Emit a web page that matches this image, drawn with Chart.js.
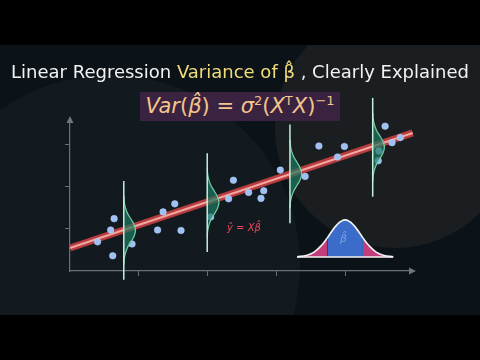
<!DOCTYPE html>
<html>
<head>
<meta charset="utf-8">
<script src="https://cdn.jsdelivr.net/npm/chart.js@4"></script>
<style>
  html, body { margin: 0; padding: 0; background: #000; }
  #wrap { position: relative; width: 480px; height: 360px; overflow: hidden; }
  #wrap canvas { position: absolute; left: 0; top: 0; }
  .title { position: absolute; left: 0; width: 480px; top: 61px; text-align: center;
    font: 18px "DejaVu Sans"; color: #f2f2f2; white-space: nowrap; }
  .title .hl { color: #f1dd78; }
  .formula { position: absolute; left: 140px; top: 92px; width: 200px; height: 29px;
    background: #3a2340; color: #f4c58c; font: 21px "DejaVu Sans"; text-align: center;
    line-height: 29px; white-space: nowrap; }
  .formula sup { font-size: 0.62em; vertical-align: 0; position: relative; top: -0.65em; }
  .yhat { position: absolute; left: 227px; top: 222px; font: italic 10px "DejaVu Sans"; color: #e8485a; white-space: nowrap; }
  .bhat { position: absolute; left: 340px; top: 232px; font: italic 11px "DejaVu Sans"; color: rgba(200,220,255,0.45); }
</style>
</head>
<body>
<div id="wrap">
  <canvas id="chart" width="480" height="360"></canvas>
  <div class="title">Linear Regression <span class="hl">Variance of β̂</span> , Clearly Explained</div>
  <div class="formula"><i>Var</i>(<i>β̂</i>) = <i>σ</i><sup>2</sup>(<i>X</i><sup>T</sup><i>X</i>)<sup>−1</sup></div>
  <div class="yhat">ŷ = Xβ̂</div>
  <div class="bhat">β̂</div>
</div>
<script>
// axis ticks (no labels shown)
const xTicks = [1, 2, 3, 4];
const yTicks = [1, 2, 3];

// observed points
const pointX = [0.40, 0.59, 0.64, 0.62, 0.90, 1.27, 1.35, 1.52, 1.61, 2.04, 2.30, 2.37, 2.59,
  2.77, 2.81, 3.05, 3.41, 3.61, 3.88, 3.98, 4.47, 4.48, 4.57, 4.67, 4.79];
const pointY = [0.69, 0.97, 1.24, 0.36, 0.64, 0.97, 1.40, 1.59, 0.96, 1.28, 1.71, 2.15, 1.86,
  1.72, 1.90, 2.39, 2.24, 2.96, 2.70, 2.95, 2.61, 2.84, 3.43, 3.04, 3.16];

// fitted line ends
const fitX = [0, 4.97];
const fitY = [0.545, 3.27];

// conditional distributions along the line
const bellX = [0.78, 1.99, 3.19, 4.39];
const bellY = [0.96, 1.62, 2.30, 2.93];
const bellSteps = [-3, -2.5, -2, -1.5, -1, -0.5, 0, 0.5, 1, 1.5, 2, 2.5, 3];
const bellShape = [0.01, 0.04, 0.14, 0.32, 0.61, 0.88, 1, 0.88, 0.61, 0.32, 0.14, 0.04, 0.01];

// sampling distribution of beta hat
const betaSteps = [-3.1, -2.5, -2, -1.5, -1.15, -1, -0.5, 0, 0.5, 1, 1.15, 1.5, 2, 2.5, 3.1];
const betaShape = [0.008, 0.044, 0.135, 0.325, 0.516, 0.607, 0.882, 1, 0.882, 0.607, 0.516,
  0.325, 0.135, 0.044, 0.008];
const betaMean = 3.99, betaBase = 0.33, betaPeak = 0.88, betaSd = 0.225, betaInner = 1.15;

const bellSd = 0.27, bellWidth = 0.17, stemHalf = 1.17;

const datasets = [];

// beta hat curve: tails, centre, outline, base
const betaPts = betaSteps.map((s, i) => ({ x: betaMean + s * betaSd, y: betaBase + betaShape[i] * betaPeak, s }));
const tailL = betaPts.filter(p => p.s <= -betaInner);
const tailR = betaPts.filter(p => p.s >= betaInner);
const mid = betaPts.filter(p => Math.abs(p.s) <= betaInner);
[tailL, tailR].forEach(pts => datasets.push({
  data: pts, borderWidth: 0, pointRadius: 0, tension: 0.4,
  backgroundColor: '#c23d7c', fill: { value: betaBase }, order: 10
}));
datasets.push({
  data: mid, borderWidth: 0, pointRadius: 0, tension: 0.4,
  backgroundColor: '#3b6cc9', fill: { value: betaBase }, order: 10
});
datasets.push({
  data: betaPts, borderColor: '#f4f4f4', borderWidth: 1.6, pointRadius: 0, tension: 0.4,
  fill: false, order: 9
});
datasets.push({
  data: [{ x: betaPts[0].x, y: betaBase }, { x: betaPts[betaPts.length - 1].x, y: betaBase }],
  borderColor: '#f4f4f4', borderWidth: 1.4, pointRadius: 0, fill: false, order: 9
});

// regression line: glow + core
const fit = fitX.map((x, i) => ({ x, y: fitY[i] }));
datasets.push({ data: fit, borderColor: '#b63c3e', borderWidth: 7, pointRadius: 0, fill: false, clip: false, order: 8 });
datasets.push({ data: fit, borderColor: '#f2a6a2', borderWidth: 2, pointRadius: 0, fill: false, clip: false, order: 7 });

// points
datasets.push({
  data: pointX.map((x, i) => ({ x, y: pointY[i] })), showLine: false,
  pointRadius: 3.3, pointBackgroundColor: '#9fc0f2', pointBorderColor: 'rgba(190,215,255,0.6)',
  pointBorderWidth: 0.8, order: 5
});

// conditional bells + stems
bellX.forEach((bx, k) => {
  datasets.push({
    data: bellSteps.map((s, i) => ({ x: bx + bellShape[i] * bellWidth, y: bellY[k] + s * bellSd })),
    borderColor: '#6fcfa6', borderWidth: 1.2, backgroundColor: 'rgba(30,122,98,0.7)',
    pointRadius: 0, tension: 0.4, fill: 'shape', clip: false, order: 3
  });
  datasets.push({
    data: [{ x: bx, y: bellY[k] - stemHalf }, { x: bx, y: bellY[k] + stemHalf }],
    borderColor: '#c4f0dc', borderWidth: 1.5, pointRadius: 0, fill: false, clip: false, order: 2
  });
});

const backdrop = {
  id: 'backdrop',
  beforeDraw(chart) {
    const ctx = chart.ctx;
    ctx.save();
    ctx.fillStyle = '#000';
    ctx.fillRect(0, 0, 480, 360);
    ctx.beginPath();
    ctx.rect(0, 45, 480, 270);
    ctx.clip();
    ctx.fillStyle = '#0c1318';
    ctx.fillRect(0, 45, 480, 270);
    ctx.fillStyle = '#121a20';
    ctx.beginPath(); ctx.arc(110, 265, 190, 0, Math.PI * 2); ctx.fill();
    ctx.fillStyle = '#1b1e20';
    ctx.beginPath(); ctx.arc(395, 128, 120, 0, Math.PI * 2); ctx.fill();
    ctx.restore();
  }
};

const arrows = {
  id: 'arrows',
  afterDraw(chart) {
    const { ctx, chartArea: a } = chart;
    ctx.save();
    ctx.fillStyle = '#6d767f';
    ctx.beginPath();
    ctx.moveTo(a.right + 4, a.bottom);
    ctx.lineTo(a.right - 3, a.bottom - 3.5);
    ctx.lineTo(a.right - 3, a.bottom + 3.5);
    ctx.closePath(); ctx.fill();
    ctx.beginPath();
    ctx.moveTo(a.left, a.top - 3);
    ctx.lineTo(a.left - 3.5, a.top + 4);
    ctx.lineTo(a.left + 3.5, a.top + 4);
    ctx.closePath(); ctx.fill();
    ctx.restore();
  }
};

const axisStyle = (min, max, ticks, horizontal) => ({
  type: 'linear', min, max,
  afterFit: s => { if (horizontal) s.height = 0; else s.width = 0; },
  afterBuildTicks: s => { s.ticks = s.ticks.filter(t => ticks.includes(t.value)); },
  ticks: { display: false, stepSize: 1 },
  grid: { drawOnChartArea: false, drawTicks: true, tickLength: 5, color: '#68717a', lineWidth: 1 },
  border: { color: '#68717a', width: 1.2 }
});

new Chart(document.getElementById('chart'), {
  type: 'line',
  data: { datasets },
  options: {
    responsive: false,
    animation: false,
    events: [],
    layout: { autoPadding: false, padding: { left: 70, right: 68, top: 119, bottom: 89 } },
    plugins: { legend: { display: false }, tooltip: { enabled: false } },
    scales: {
      x: axisStyle(0, 4.96, xTicks, true),
      y: axisStyle(0, 3.6, yTicks, false)
    }
  },
  plugins: [backdrop, arrows]
});
</script>
</body>
</html>
